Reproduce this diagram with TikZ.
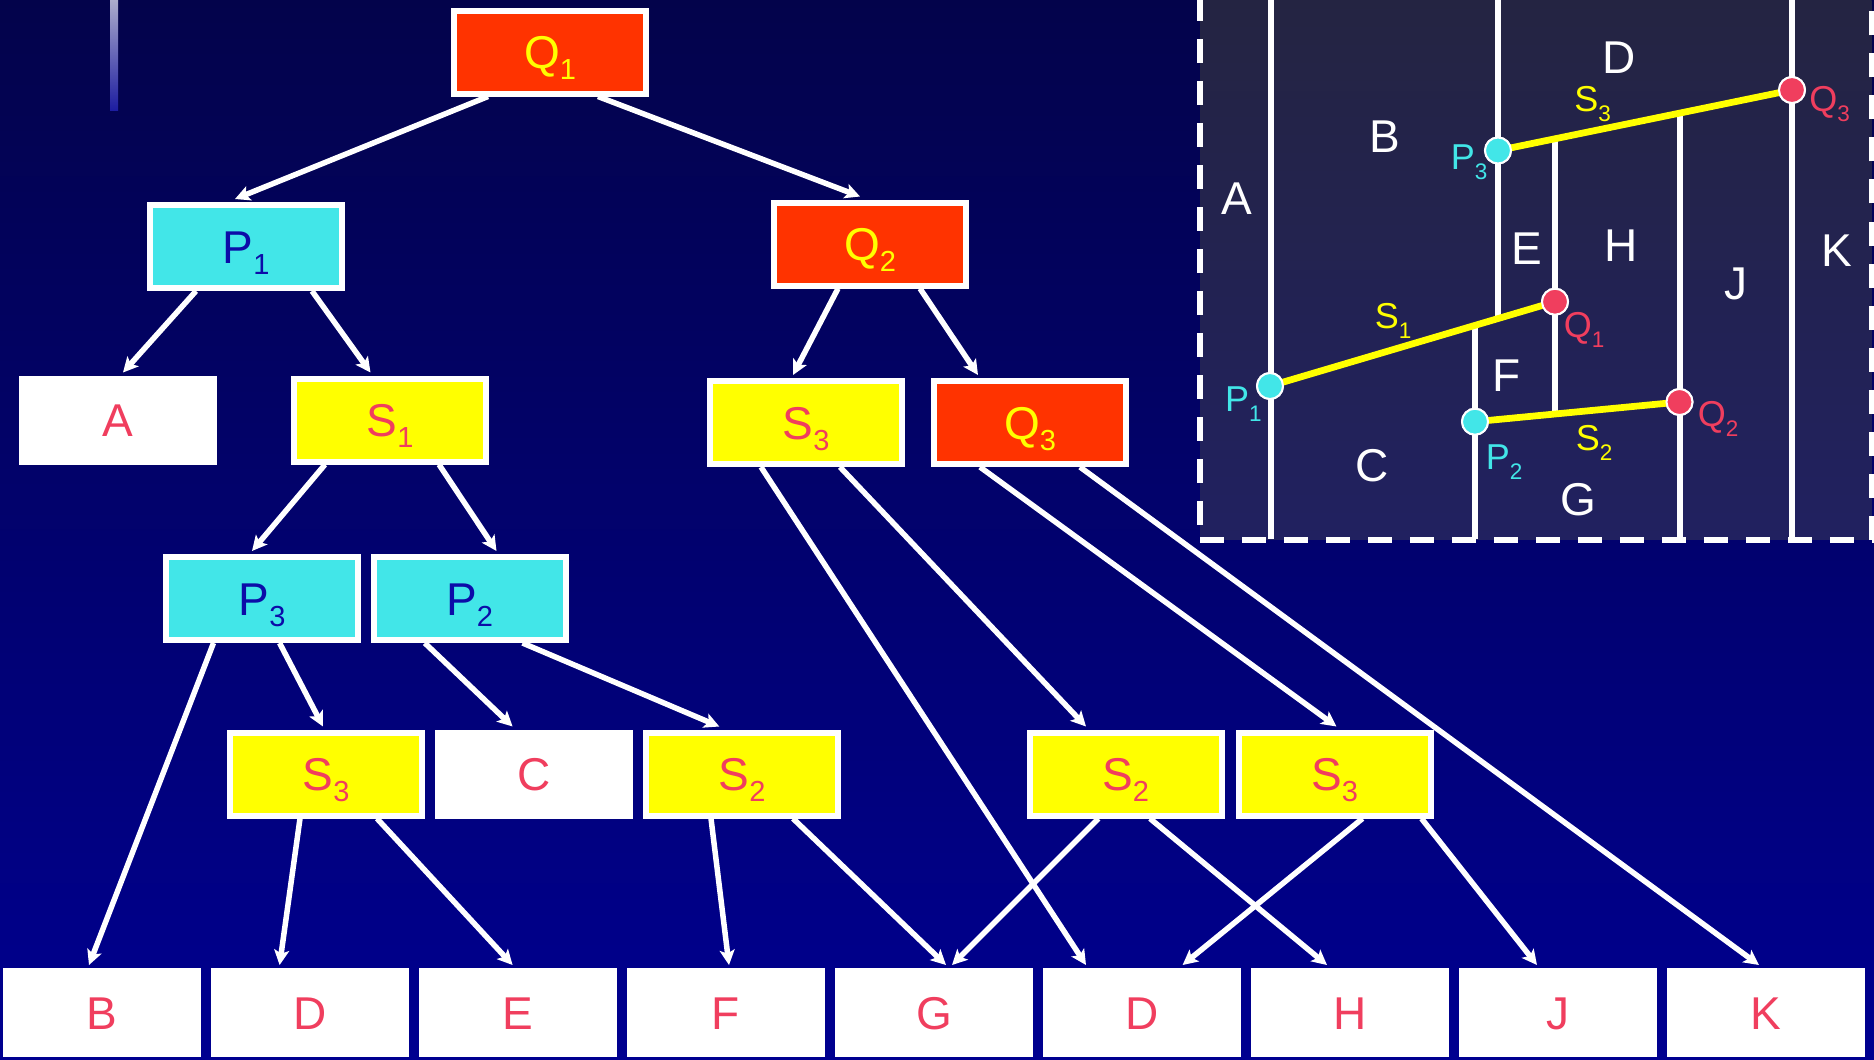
\documentclass[tikz,border=0pt]{standalone}
\usepackage{fontspec}
\setmainfont{Liberation Sans}
\usetikzlibrary{arrows.meta,calc}
\definecolor{qred}{RGB}{255,51,0}
\definecolor{pcyan}{RGB}{66,230,232}
\definecolor{pblue}{RGB}{12,12,168}
\definecolor{txtpink}{RGB}{240,62,94}
\definecolor{ylw}{RGB}{255,255,0}
\definecolor{bgtop}{RGB}{3,3,75}
\definecolor{bgbot}{RGB}{0,0,144}
\definecolor{insettop}{RGB}{36,36,66}
\definecolor{insetbot}{RGB}{33,33,96}
\definecolor{bartop}{RGB}{172,172,204}
\definecolor{barbot}{RGB}{28,28,160}
\newcommand\tsub[1]{\raisebox{-4.4pt}{\fontsize{11.6pt}{12pt}\selectfont #1}}
\newcommand\isub[1]{\raisebox{-4pt}{\fontsize{9pt}{10pt}\selectfont #1}}
\begin{document}
\begin{tikzpicture}[x=0.4pt,y=-0.4pt,
  box/.style={draw=white, line width=2.4pt, minimum width=76.8pt, minimum height=33.2pt,
    inner sep=0pt, font=\fontsize{18.4pt}{22pt}\selectfont, text height=13.2pt, text depth=0pt},
  qbox/.style={box, fill=qred, text=ylw},
  pbox/.style={box, fill=pcyan, text=pblue},
  sbox/.style={box, fill=ylw, text=txtpink},
  wbox/.style={box, fill=white, text=txtpink},
  arr/.style={draw=white, line width=2.2pt, -{Stealth[length=6pt, width=6pt, inset=1.4pt]}},
  vline/.style={draw=white, line width=2.4pt},
  seg/.style={draw=ylw, line width=2.7pt},
  borderdash/.style={draw=white, line width=2.4pt, dash pattern=on 9.6pt off 7.2pt},
  ptP/.style={circle, fill=pcyan, draw=white, line width=0.8pt, minimum size=10.4pt, inner sep=0pt},
  ptQ/.style={circle, fill=txtpink, draw=white, line width=0.8pt, minimum size=10.4pt, inner sep=0pt},
  ilab/.style={text=white, inner sep=0pt, font=\fontsize{18.4pt}{22pt}\selectfont, text height=13.2pt, text depth=0pt},
  plab/.style={inner sep=0pt, font=\fontsize{14.4pt}{17pt}\selectfont, text height=10.3pt, text depth=0pt}
]
\useasboundingbox (0,0) rectangle (1874,1060);
\shade[top color=bgtop, bottom color=bgbot] (0,0) rectangle (1874,1060);
\shade[top color=bartop, bottom color=barbot] (110,0) rectangle (118,110.7);

% ---------- inset ----------
\shade[top color=insettop, bottom color=insetbot] (1200,0) rectangle (1871.5,539.5);
\draw[borderdash] (1200,-3) -- (1200,539.5);
\draw[borderdash] (1200,539.5) -- (1874,539.5);
\draw[borderdash] (1871.5,539.5) -- (1871.5,-5);

\node[ptP] (iP1) at (1270,386) {};
\node[ptQ] (iQ1) at (1555,301.7) {};
\node[ptP] (iP3) at (1498,150.5) {};
\node[ptQ] (iQ3) at (1792,90) {};
\node[ptP] (iP2) at (1475,421.7) {};
\node[ptQ] (iQ2) at (1679.5,402) {};

\coordinate (v1a) at (1271,-5);   \coordinate (v1b) at (1271,539);
\coordinate (v2a) at (1498,-5);   \coordinate (v2b) at (1498,318.6);
\coordinate (v3a) at (1475,325.5);\coordinate (v3b) at (1475,539);
\coordinate (v4a) at (1555,138.8);\coordinate (v4b) at (1555,414);
\coordinate (v5a) at (1679.5,113.1);\coordinate (v5b) at (1679.5,539);
\coordinate (v6a) at (1792,-5);   \coordinate (v6b) at (1792,539);
\draw[vline] (v1a) -- (v1b);
\draw[vline] (v2a) -- (v2b);
\draw[vline] (v3a) -- (v3b);
\draw[vline] (v4a) -- (v4b);
\draw[vline] (v5a) -- (v5b);
\draw[vline] (v6a) -- (v6b);
\draw[seg] (iP1.center) -- (iQ1.center);
\draw[seg] (iP3.center) -- (iQ3.center);
\draw[seg] (iP2.center) -- (iQ2.center);
% redraw points on top
\node[ptP] at (iP1) {};
\node[ptQ] at (iQ1) {};
\node[ptP] at (iP3) {};
\node[ptQ] at (iQ3) {};
\node[ptP] at (iP2) {};
\node[ptQ] at (iQ2) {};

\node[ilab] (lA) at (1237,198) {A};
\node[ilab] (lB) at (1385,136) {B};
\node[ilab] (lD) at (1619,57) {D};
\node[ilab] (lE) at (1527,247.5) {E};
\node[ilab] (lH) at (1620.6,245) {H};
\node[ilab] (lJ) at (1736,283) {J};
\node[ilab] (lK) at (1837,249.6) {K};
\node[ilab] (lC) at (1372,465) {C};
\node[ilab] (lF) at (1507,375) {F};
\node[ilab] (lG) at (1578,499) {G};

\node[plab, text=pcyan] (lP3) at (1469,157) {P\isub{3}};
\node[plab, text=pcyan] (lP1) at (1243.4,399) {P\isub{1}};
\node[plab, text=pcyan] (lP2) at (1504,457) {P\isub{2}};
\node[plab, text=txtpink] (lQ1) at (1584,325) {Q\isub{1}};
\node[plab, text=txtpink] (lQ2) at (1718,413.6) {Q\isub{2}};
\node[plab, text=txtpink] (lQ3) at (1829.6,98.2) {Q\isub{3}};
\node[plab, text=ylw] (lS3) at (1592.5,99) {S\isub{3}};
\node[plab, text=ylw] (lS1) at (1393,316) {S\isub{1}};
\node[plab, text=ylw] (lS2) at (1594,438) {S\isub{2}};

% ---------- tree ----------
\node[qbox] (Q1) at (550,52) {Q\tsub{1}};
\node[pbox] (P1) at (246,246.5) {P\tsub{1}};
\node[qbox] (Q2) at (870,244) {Q\tsub{2}};
\node[wbox] (A) at (118,420) {A};
\node[sbox] (S1) at (390,420) {S\tsub{1}};
\node[sbox] (S3a) at (806,422.5) {S\tsub{3}};
\node[qbox] (Q3) at (1030,422.5) {Q\tsub{3}};
\node[pbox] (P3) at (262,598.5) {P\tsub{3}};
\node[pbox] (P2) at (469.5,598.5) {P\tsub{2}};
\node[sbox] (S3b) at (326,774) {S\tsub{3}};
\node[wbox] (C) at (534,774) {C};
\node[sbox] (S2a) at (742,774) {S\tsub{2}};
\node[sbox] (S2b) at (1125.5,774) {S\tsub{2}};
\node[sbox] (S3c) at (1334.5,774) {S\tsub{3}};
\node[wbox] (B) at (102,1012.5) {B};
\node[wbox] (D1) at (310,1012.5) {D};
\node[wbox] (E) at (518,1012.5) {E};
\node[wbox] (F) at (726,1012.5) {F};
\node[wbox] (G) at (934,1012.5) {G};
\node[wbox] (D2) at (1142,1012.5) {D};
\node[wbox] (H) at (1350,1012.5) {H};
\node[wbox] (J) at (1558,1012.5) {J};
\node[wbox] (K) at (1766,1012.5) {K};

\draw[arr] ($(Q1.south)+(-62,0)$) -- ($(P1.north)+(-11,-3)$);
\draw[arr] ($(Q1.south)+(48,0)$) -- ($(Q2.north)+(-10,-3)$);
\draw[arr] ($(P1.south)+(-50,0)$) -- ($(A.north)+(5,-3)$);
\draw[arr] ($(P1.south)+(66,0)$) -- ($(S1.north)+(-19.5,-3)$);
\draw[arr] ($(Q2.south)+(-32,0)$) -- ($(S3a.north)+(-13,-3)$);
\draw[arr] ($(Q2.south)+(50,0)$) -- ($(Q3.north)+(-52,-3)$);
\draw[arr] ($(S1.south)+(-65,0)$) -- ($(P3.north)+(-10,-3)$);
\draw[arr] ($(S1.south)+(49,0)$) -- ($(P2.north)+(27,-3)$);
\draw[arr] ($(P3.south)+(-48.5,0)$) -- ($(B.north)+(-13,-3)$);
\draw[arr] ($(P3.south)+(17.6,0)$) -- ($(S3b.north)+(-3,-3)$);
\draw[arr] ($(P2.south)+(-44.7,0)$) -- ($(C.north)+(-21.4,-3)$);
\draw[arr] ($(P2.south)+(53,0)$) -- ($(S2a.north)+(-22.7,-3)$);
\draw[arr] ($(S3b.south)+(-26,0)$) -- ($(D1.north)+(-30.4,-3)$);
\draw[arr] ($(S3b.south)+(51,0)$) -- ($(E.north)+(-5.4,-3)$);
\draw[arr] ($(S2a.south)+(-31,0)$) -- ($(F.north)+(3,-3)$);
\draw[arr] ($(S2a.south)+(51,0)$) -- ($(G.north)+(12,-3)$);
\draw[arr] ($(S3a.south)+(-45,0)$) -- ($(D2.north)+(-56,-3)$);
\draw[arr] ($(S3a.south)+(34,0)$) -- ($(S2b.north)+(-39.5,-3)$);
\draw[arr] ($(Q3.south)+(-50,0)$) -- ($(S3c.north)+(2,-3)$);
\draw[arr] ($(Q3.south)+(50,0)$) -- ($(K.north)+(-7,-3)$);
\draw[arr] ($(S2b.south)+(-27,0)$) -- ($(G.north)+(18,-3)$);
\draw[arr] ($(S2b.south)+(24.5,0)$) -- ($(H.north)+(-23,-3)$);
\draw[arr] ($(S3c.south)+(28,0)$) -- ($(D2.north)+(40.6,-3)$);
\draw[arr] ($(S3c.south)+(87,0)$) -- ($(J.north)+(-21,-3)$);
\end{tikzpicture}
\end{document}
